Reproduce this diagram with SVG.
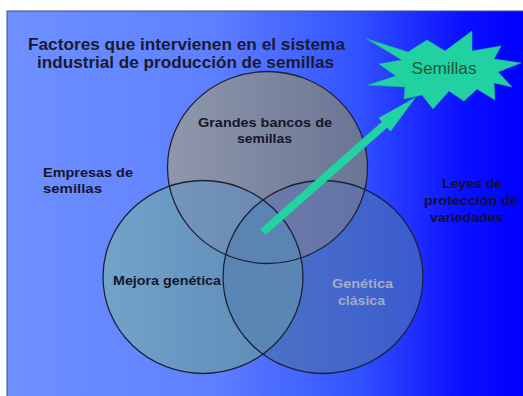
<svg xmlns="http://www.w3.org/2000/svg" xmlns:xlink="http://www.w3.org/1999/xlink" width="523" height="396" viewBox="0 0 523 396">
  <style>
    .lbl { font-family: "Liberation Sans", Arial, sans-serif; font-weight: bold; font-size: 12px; fill: #16162a; }
    .title { font-family: "Liberation Sans", Arial, sans-serif; font-weight: bold; font-size: 16px; fill: #1a1a30; }
    .ring { fill: none; stroke: #1c2236; stroke-width: 1.3; }
  </style>
  <defs>
    <linearGradient id="bg" x1="7" y1="0" x2="523" y2="0" gradientUnits="userSpaceOnUse">
      <stop offset="0" stop-color="#6e90ff"/>
      <stop offset="0.4" stop-color="#5e80ff"/>
      <stop offset="0.68" stop-color="#3252ff"/>
      <stop offset="0.88" stop-color="#0c10ff"/>
      <stop offset="1" stop-color="#0000ff"/>
    </linearGradient>
    <linearGradient id="gT" x1="167" y1="0" x2="367" y2="0" gradientUnits="userSpaceOnUse">
      <stop offset="0" stop-color="#8f98ab"/>
      <stop offset="1" stop-color="#6a7494"/>
    </linearGradient>
    <linearGradient id="gL" x1="103" y1="0" x2="303" y2="0" gradientUnits="userSpaceOnUse">
      <stop offset="0" stop-color="#72a3c9"/>
      <stop offset="1" stop-color="#5a89b6"/>
    </linearGradient>
    <linearGradient id="gR" x1="223" y1="0" x2="423" y2="0" gradientUnits="userSpaceOnUse">
      <stop offset="0" stop-color="#5079c2"/>
      <stop offset="1" stop-color="#3a5bd0"/>
    </linearGradient>
    <linearGradient id="gTL" x1="168" y1="0" x2="302" y2="0" gradientUnits="userSpaceOnUse">
      <stop offset="0" stop-color="#7595bd"/>
      <stop offset="1" stop-color="#6686b2"/>
    </linearGradient>
    <linearGradient id="gTR" x1="224" y1="0" x2="367" y2="0" gradientUnits="userSpaceOnUse">
      <stop offset="0" stop-color="#6e7fae"/>
      <stop offset="1" stop-color="#6272a4"/>
    </linearGradient>
    <ellipse id="eT" cx="267.5" cy="167.5" rx="100" ry="96"/>
    <ellipse id="eL" cx="203" cy="277" rx="100" ry="96.5"/>
    <ellipse id="eR" cx="323" cy="277" rx="100" ry="96.5"/>
    <clipPath id="cT"><use xlink:href="#eT"/></clipPath>
    <clipPath id="cL"><use xlink:href="#eL"/></clipPath>
  </defs>

  <rect x="0" y="0" width="523" height="396" fill="#ffffff"/>
  <rect id="background" x="7" y="11" width="517" height="386" fill="url(#bg)" stroke="#3a48a0" stroke-width="1"/>

  <g id="title">
    <text class="title" x="186.5" y="50" text-anchor="middle" textLength="317" lengthAdjust="spacingAndGlyphs">Factores que intervienen en el sistema</text>
    <text class="title" x="185.5" y="68" text-anchor="middle" textLength="297" lengthAdjust="spacingAndGlyphs">industrial de producción de semillas</text>
  </g>

  <g id="venn">
    <use xlink:href="#eT" fill="url(#gT)"/>
    <use xlink:href="#eL" fill="url(#gL)"/>
    <use xlink:href="#eR" fill="url(#gR)"/>
    <g clip-path="url(#cT)"><use xlink:href="#eL" fill="url(#gTL)"/></g>
    <g clip-path="url(#cT)"><use xlink:href="#eR" fill="url(#gTR)"/></g>
    <g clip-path="url(#cL)"><use xlink:href="#eR" fill="#5a86b6"/></g>
    <g clip-path="url(#cT)"><g clip-path="url(#cL)"><use xlink:href="#eR" fill="#5b83b3"/></g></g>
    <use xlink:href="#eT" class="ring"/>
    <use xlink:href="#eL" class="ring"/>
    <use xlink:href="#eR" class="ring"/>
  </g>

  <g id="node-grandes-bancos">
    <text class="lbl" x="198" y="127" textLength="134" lengthAdjust="spacingAndGlyphs">Grandes bancos de</text>
    <text class="lbl" x="237" y="143" textLength="55" lengthAdjust="spacingAndGlyphs">semillas</text>
  </g>
  <g id="node-mejora">
    <text class="lbl" x="113" y="285" textLength="108" lengthAdjust="spacingAndGlyphs">Mejora genética</text>
  </g>
  <g id="node-genetica">
    <text class="lbl" x="332" y="288" textLength="61" lengthAdjust="spacingAndGlyphs" style="fill:#a3abc6">Genética</text>
    <text class="lbl" x="338" y="305" textLength="47" lengthAdjust="spacingAndGlyphs" style="fill:#a3abc6">clásica</text>
  </g>
  <g id="node-empresas">
    <text class="lbl" x="43" y="177" textLength="90" lengthAdjust="spacingAndGlyphs">Empresas de</text>
    <text class="lbl" x="43" y="193" textLength="59" lengthAdjust="spacingAndGlyphs">semillas</text>
  </g>
  <g id="node-leyes">
    <text class="lbl" x="442" y="188" textLength="60" lengthAdjust="spacingAndGlyphs" style="fill:#10103a">Leyes de</text>
    <text class="lbl" x="424" y="205" textLength="94" lengthAdjust="spacingAndGlyphs" style="fill:#10103a">protección de</text>
    <text class="lbl" x="430" y="222" textLength="73" lengthAdjust="spacingAndGlyphs" style="fill:#10103a">variedades</text>
  </g>

  <g id="connectors">
    <path d="M260.4,229 L381.9,121.8 L378.5,118.1 L416,97 L390.5,131.5 L387.1,127.8 L265.6,235 Z" fill="#22d3a2"/>
  </g>

  <g id="node-semillas">
    <polygon points="367,39 408,52 427,40 445,51 472,31 472,51 501,46 494,59 521,63 498,72 512,87 494,83 495,100 477,89 464,101 449,91 433,109 422,95 404,99 405,87 368,85 396,76 379,64 402,60" fill="#22d1a1" stroke="#1fb98f" stroke-width="0.6"/>
    <text x="444" y="74" text-anchor="middle" textLength="65" lengthAdjust="spacingAndGlyphs" style="font-family:'Liberation Sans', Arial, sans-serif; font-size:16px; fill:#1c5a3a">Semillas</text>
  </g>
</svg>
